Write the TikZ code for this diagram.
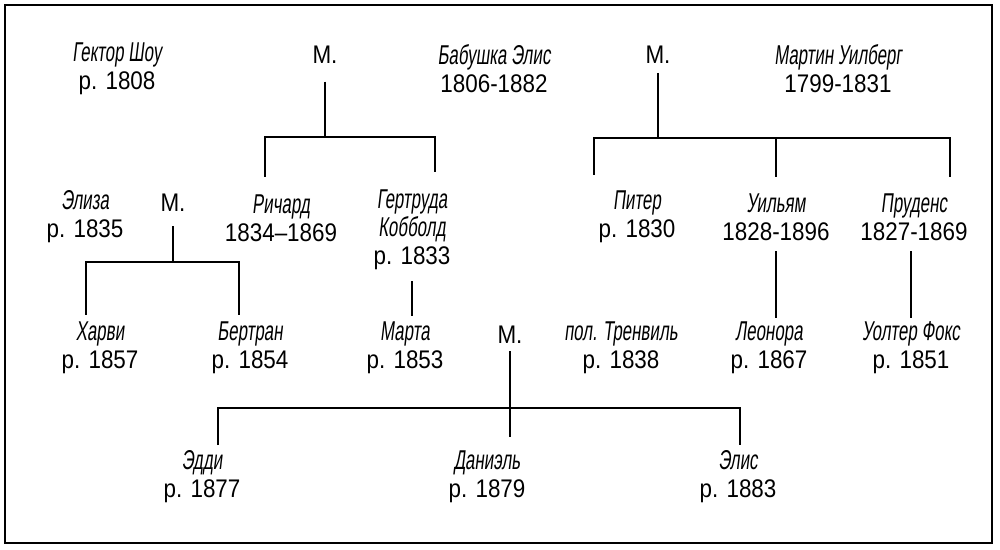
\documentclass[tikz,border=0pt]{standalone}
\usepackage{fontspec}
\setmainfont{Liberation Sans}[FakeStretch=0.88]
\newfontfamily\namefont[FakeStretch=0.62,FakeSlant=0.12]{Liberation Sans}
\newcommand{\nm}[1]{{\namefont\fontsize{15.5}{16}\selectfont #1}}
\tikzstyle{person}=[align=center, inner sep=2pt, font=\fontsize{14.5}{16}\selectfont]
\tikzstyle{wed}=[inner sep=2pt, font=\fontsize{14.5}{16}\selectfont]
\tikzstyle{link}=[line width=1pt]

\begin{document}
\begin{tikzpicture}[x=0.02cm,y=-0.02cm]
  \useasboundingbox (0,0) rectangle (1000,550);
  \draw[line width=1.5pt] (5,5) rectangle (992,543);

  %% first generation
  \draw (117,69) node[person] (Hector) {\nm{Гектор Шоу}\\р. 1808};
  \draw (325,55) node[wed] (M1) {М.};
  \draw (494,69) node[person] (Granny) {\nm{Бабушка Элис}\\1806-1882};
  \draw (658,55) node[wed] (M2) {М.};
  \draw (838,69) node[person] (Martin) {\nm{Мартин Уилберг}\\1799-1831};

  %% second generation
  \draw (85,217) node[person] (Eliza) {\nm{Элиза}\\р. 1835};
  \draw (173,203) node[wed] (M3) {М.};
  \draw (281,218) node[person] (Richard) {\nm{Ричард}\\1834--1869};
  \draw (412,230) node[person] (Gertr) {\nm{Гертруда}\\\nm{Кобболд}\\р. 1833};
  \draw (637,217) node[person] (Peter) {\nm{Питер}\\р. 1830};
  \draw (776,217) node[person] (William) {\nm{Уильям}\\1828-1896};
  \draw (914,217) node[person] (Prud) {\nm{Пруденс}\\1827-1869};

  %% third generation
  \draw (100,348) node[person] (Harvey) {\nm{Харви}\\р. 1857};
  \draw (250,348) node[person] (Bertran) {\nm{Бертран}\\р. 1854};
  \draw (405,348) node[person] (Marta) {\nm{Марта}\\р. 1853};
  \draw (510,335) node[wed] (M4) {М.};
  \draw (621,348) node[person] (Trenv) {\nm{пол. Тренвиль}\\р. 1838};
  \draw (769,348) node[person] (Leonora) {\nm{Леонора}\\р. 1867};
  \draw (911,348) node[person] (Walter) {\nm{Уолтер Фокс}\\р. 1851};

  %% fourth generation
  \draw (202,477) node[person] (Eddie) {\nm{Эдди}\\р. 1877};
  \draw (487,477) node[person] (Daniel) {\nm{Даниэль}\\р. 1879};
  \draw (738,477) node[person] (Alice) {\nm{Элис}\\р. 1883};

  %% bars
  \coordinate (J1) at (325,137);
  \coordinate (B1a) at (265,137);
  \coordinate (B1b) at (435,137);
  \coordinate (J2) at (658,138);
  \coordinate (B2a) at (594,138);
  \coordinate (B2b) at (776,138);
  \coordinate (B2c) at (950,138);
  \coordinate (J3) at (173,262);
  \coordinate (B3a) at (86,262);
  \coordinate (B3b) at (239,262);
  \coordinate (B4a) at (218,408);
  \coordinate (B4b) at (740,408);

  \draw[link,shorten <=8pt] (M1) -- (J1);
  \draw[link,shorten <=8pt,shorten >=8pt] (B1a |- Richard.north) -- (B1a) -- (B1b) -- (B1b |- Gertr.north);

  \draw[link,shorten <=3pt] (M2) -- (J2);
  \draw[link,shorten <=7pt,shorten >=7pt] (B2a |- Peter.north) -- (B2a) -- (B2c) -- (B2c |- Prud.north);
  \draw[link,shorten >=7pt] (B2b) -- (B2b |- William.north);

  \draw[link,shorten <=6pt] (M3) -- (J3);
  \draw[link,shorten <=2pt,shorten >=2pt] (B3a |- Harvey.north) -- (B3a) -- (B3b) -- (B3b |- Bertran.north);

  \draw[link,shorten <=4pt,shorten >=1pt] (Gertr.south) -- (Gertr.south |- Marta.north);
  \draw[link,shorten <=4pt] (William.south) -- (William.south |- Leonora.north);
  \draw[link,shorten <=4pt] (Walter |- Prud.south) -- (Walter.north);

  \draw[link,shorten <=2pt,shorten >=6pt] (M4) -- (M4 |- Daniel.north);
  \draw[link,shorten <=1pt,shorten >=1pt] (B4a |- Eddie.north) -- (B4a) -- (B4b) -- (B4b |- Alice.north);
\end{tikzpicture}
\end{document}
